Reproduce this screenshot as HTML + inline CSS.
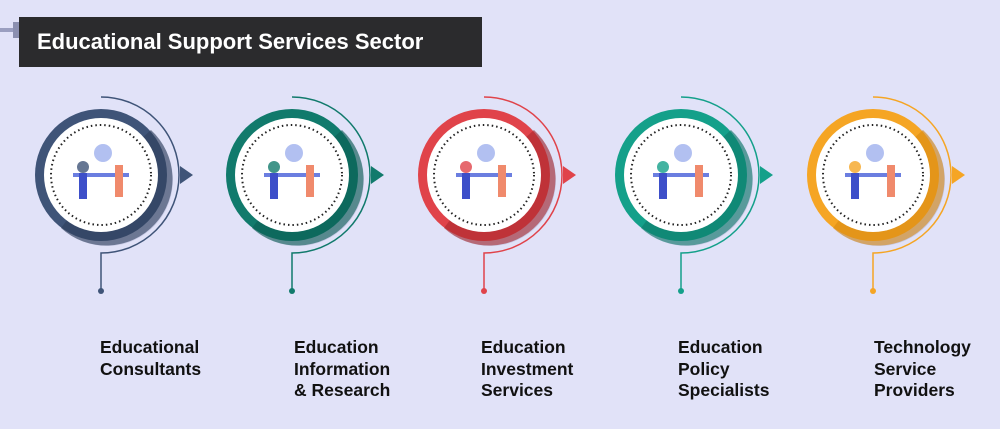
<!DOCTYPE html>
<html><head><meta charset="utf-8"><style>
html,body{margin:0;padding:0;}
body{width:1000px;height:429px;overflow:hidden;background:#e1e2f8;font-family:"Liberation Sans",sans-serif;position:relative;}
#title{position:absolute;left:19px;top:17px;width:463px;height:50px;background:#2b2b2d;color:#fff;font-weight:bold;font-size:22px;line-height:50px;box-sizing:border-box;padding-left:18px;}
#tab{position:absolute;left:13px;top:22px;width:6px;height:16px;background:#8b8fb0;}
#tabline{position:absolute;left:0;top:28px;width:13px;height:4px;background:#9a9ec0;}
.lbl{position:absolute;top:337px;font-weight:bold;font-size:17.5px;line-height:21.5px;color:#111;}
svg{position:absolute;left:0;top:0;}
</style></head><body>
<div id="tabline"></div>
<div id="tab"></div>
<div id="title">Educational Support Services Sector</div>
<svg id="g" width="1000" height="429"></svg>
<div class="lbl" style="left:100px">Educational<br>Consultants</div>
<div class="lbl" style="left:294px">Education<br>Information<br>&amp; Research</div>
<div class="lbl" style="left:481px">Education<br>Investment<br>Services</div>
<div class="lbl" style="left:678px">Education<br>Policy<br>Specialists</div>
<div class="lbl" style="left:874px">Technology<br>Service<br>Providers</div>
<script>
const centers=[101,292,484,681,873];
const colors=["#3f5478","#117a6c","#e0434a","#14a08a","#f5a524"];
const darks=["#2e3f5c","#0c5e53","#a8282d","#0e7a69","#d98a12"];
const names=["consultants","information-research","investment","policy","technology"];
const svg=document.getElementById('g');
const NS="http://www.w3.org/2000/svg";
function mk(t,a){const e=document.createElementNS(NS,t);for(const k in a)e.setAttribute(k,a[k]);svg.appendChild(e);return e;}
const cy=175;
centers.forEach((cx,i)=>{
  let e;
  e=mk('path',{d:`M${cx} 97 A78 78 0 0 1 ${cx} 253 L${cx} 291`,fill:'none',stroke:colors[i],'stroke-width':1.5});
  
  
  e=mk('circle',{cx:cx,cy:291,r:3,fill:colors[i]});
  
  
  e=mk('polygon',{points:`${cx+79},${cy-9} ${cx+92},${cy} ${cx+79},${cy+9}`,fill:colors[i]});
  
  
  e=mk('circle',{cx:cx+6,cy:cy+5,r:66,fill:'#c9cbe6'});
  
  
  e=mk('circle',{cx:cx,cy:cy,r:66,fill:colors[i]});
  
  
  e=mk('path',{d:`M${cx+50} ${cy-45} A66 66 0 0 1 ${cx-40} ${cy+53} L${cx} ${cy} Z`,fill:darks[i],opacity:0.6});
  
  
  e=mk('circle',{cx:cx,cy:cy,r:57,fill:'#fff'});
  
  
  e=mk('circle',{cx:cx,cy:cy,r:50,fill:'none',stroke:'#222','stroke-width':2,'stroke-dasharray':'1.5 3'});
  
  
  // simple illustration
  e=mk('rect',{x:cx-28,y:cy-2,width:56,height:4,fill:'#6b7ee0'});
  
  
  e=mk('circle',{cx:cx-18,cy:cy-8,r:6,fill:colors[i],opacity:0.8});
  
  
  e=mk('rect',{x:cx-22,y:cy-2,width:8,height:26,fill:'#3d4fc9'});
  
  
  e=mk('rect',{x:cx+14,y:cy-10,width:8,height:32,fill:'#f08a6c'});
  
  
  e=mk('circle',{cx:cx+2,cy:cy-22,r:9,fill:'#9fb0ee',opacity:0.8});
  
  
});
</script>
</body></html>
